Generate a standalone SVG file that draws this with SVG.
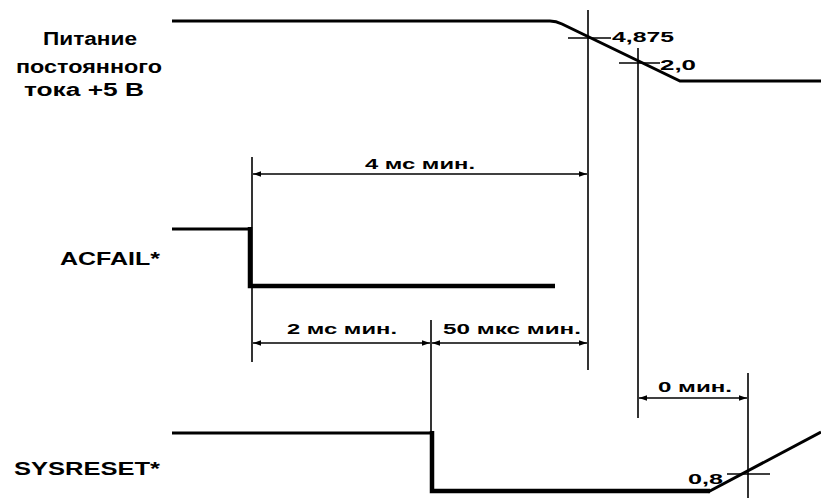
<svg xmlns="http://www.w3.org/2000/svg" width="821" height="498" viewBox="0 0 821 498">
<defs>
<marker id="arr" viewBox="0 0 10 10" refX="10" refY="5" markerWidth="10" markerHeight="8" markerUnits="userSpaceOnUse" orient="auto-start-reverse">
<path d="M0,1.5 L10,5 L0,8.5 Z" fill="#000"/>
</marker>
<style>
text{font-family:"Liberation Sans",Arial,sans-serif;font-weight:bold;fill:#000}
.lbl{font-size:18px}
.dim{font-size:15px}
.sig{fill:none;stroke:#000;stroke-width:3;stroke-linejoin:miter}
.sigb{fill:none;stroke:#000;stroke-width:4.5}
.thin{fill:none;stroke:#000;stroke-width:1.6}
.dl{fill:none;stroke:#000;stroke-width:1.4;marker-start:url(#arr);marker-end:url(#arr)}
</style>
</defs>
<rect width="821" height="498" fill="#fff"/>
<g id="label-power">
<text class="lbl" x="90" y="45" text-anchor="middle" textLength="94" lengthAdjust="spacingAndGlyphs">Питание</text>
<text class="lbl" x="89" y="73" text-anchor="middle" textLength="146" lengthAdjust="spacingAndGlyphs">постоянного</text>
<text class="lbl" x="84" y="96" text-anchor="middle" textLength="120" lengthAdjust="spacingAndGlyphs">тока +5 В</text>
</g>
<g id="label-acfail">
<text class="lbl" x="60" y="265" textLength="100" lengthAdjust="spacingAndGlyphs">ACFAIL*</text>
</g>
<g id="label-sysreset">
<text class="lbl" x="14" y="475" textLength="146" lengthAdjust="spacingAndGlyphs">SYSRESET*</text>
</g>
<g id="signal-power">
<path class="sig" d="M172,21 L550,21 Q556,21 562,24 L680,81 L821,81"/>
</g>
<g id="signal-acfail">
<path class="sig" d="M172,229 L250,229"/>
<path class="sigb" d="M250,227 L250,286 L555,286"/>
</g>
<g id="signal-sysreset">
<path class="sig" d="M172,433 L432,433"/>
<path class="sigb" d="M432,431 L432,491 L710,491"/>
<path class="sig" d="M708,492 L821,432"/>
</g>
<g id="connectors">
<line class="thin" x1="588" y1="10" x2="588" y2="370"/>
<line class="thin" x1="638" y1="48" x2="638" y2="418"/>
<line class="thin" x1="252" y1="157" x2="252" y2="362"/>
<line class="thin" x1="431" y1="320" x2="431" y2="432"/>
<line class="thin" x1="748" y1="373" x2="748" y2="498"/>
<line class="thin" x1="568" y1="38" x2="611" y2="38"/>
<line class="thin" x1="619" y1="63" x2="660" y2="63"/>
<line class="thin" x1="727" y1="474" x2="770" y2="474"/>
<line class="dl" x1="253" y1="174" x2="587" y2="174"/>
<line class="dl" x1="253" y1="343" x2="430" y2="343"/>
<line class="dl" x1="432" y1="343" x2="587" y2="343"/>
<line class="dl" x1="639" y1="398" x2="747" y2="398"/>
</g>
<g id="dim-labels">
<text class="dim" x="612" y="42" textLength="62" lengthAdjust="spacingAndGlyphs">4,875</text>
<text class="dim" x="660" y="70" textLength="36" lengthAdjust="spacingAndGlyphs">2,0</text>
<text class="dim" x="365" y="169" textLength="110" lengthAdjust="spacingAndGlyphs">4 мс мин.</text>
<text class="dim" x="287" y="334" textLength="110" lengthAdjust="spacingAndGlyphs">2 мс мин.</text>
<text class="dim" x="443" y="334" textLength="138" lengthAdjust="spacingAndGlyphs">50 мкс мин.</text>
<text class="dim" x="658" y="392" textLength="74" lengthAdjust="spacingAndGlyphs">0 мин.</text>
<text class="dim" x="688" y="484" textLength="35" lengthAdjust="spacingAndGlyphs">0,8</text>
</g>
</svg>
